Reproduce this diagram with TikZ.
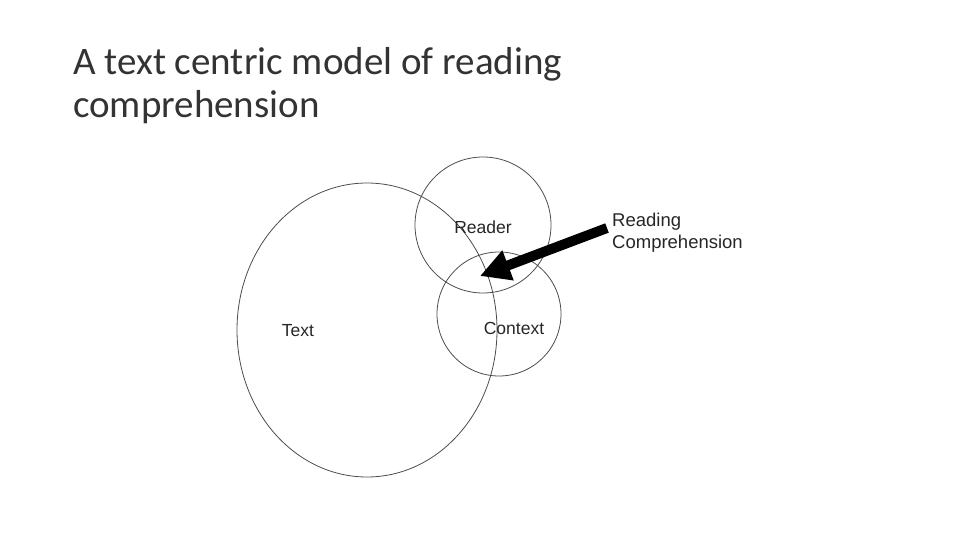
\documentclass[tikz,border=0pt]{standalone}
\usepackage{fontspec}
\setmainfont{Carlito}
\newfontfamily\lab{Liberation Sans}
\usetikzlibrary{arrows.meta,shapes.geometric}
\begin{document}
\begin{tikzpicture}[x=1pt,y=-1pt,
  ring/.style={draw=black!70,line width=0.8pt},
  lbl/.style={font=\lab\fontsize{17.5}{20}\selectfont,text=black!85}]
\useasboundingbox (0,0) rectangle (960,540);
\node[anchor=base west,align=left,font=\fontsize{39}{43}\selectfont,text=black!80,inner sep=0] (title) at (73,118) {A text centric model of reading\\comprehension};
\node[ring,ellipse,minimum width=260,minimum height=294,inner sep=0] (text) at (367,330) {};
\draw[ring] (483,225) circle (68);
\draw[ring] (499,314) circle (62);
\node[lbl] (rl) at (483,227) {Reader};
\node[lbl] (tl) at (298,331) {Text};
\node[lbl] (cl) at (514,328) {Context};
\node[lbl,anchor=west,align=left,inner sep=0,font=\lab\fontsize{18.5}{22}\selectfont] (rc) at (612,233) {Reading\\Comprehension};
\coordinate (as) at (607,228);
\coordinate (ae) at (480,276);
\draw[line width=10pt,-{Triangle[length=30pt,width=30pt]}] (as) -- (ae);
\end{tikzpicture}
\end{document}
